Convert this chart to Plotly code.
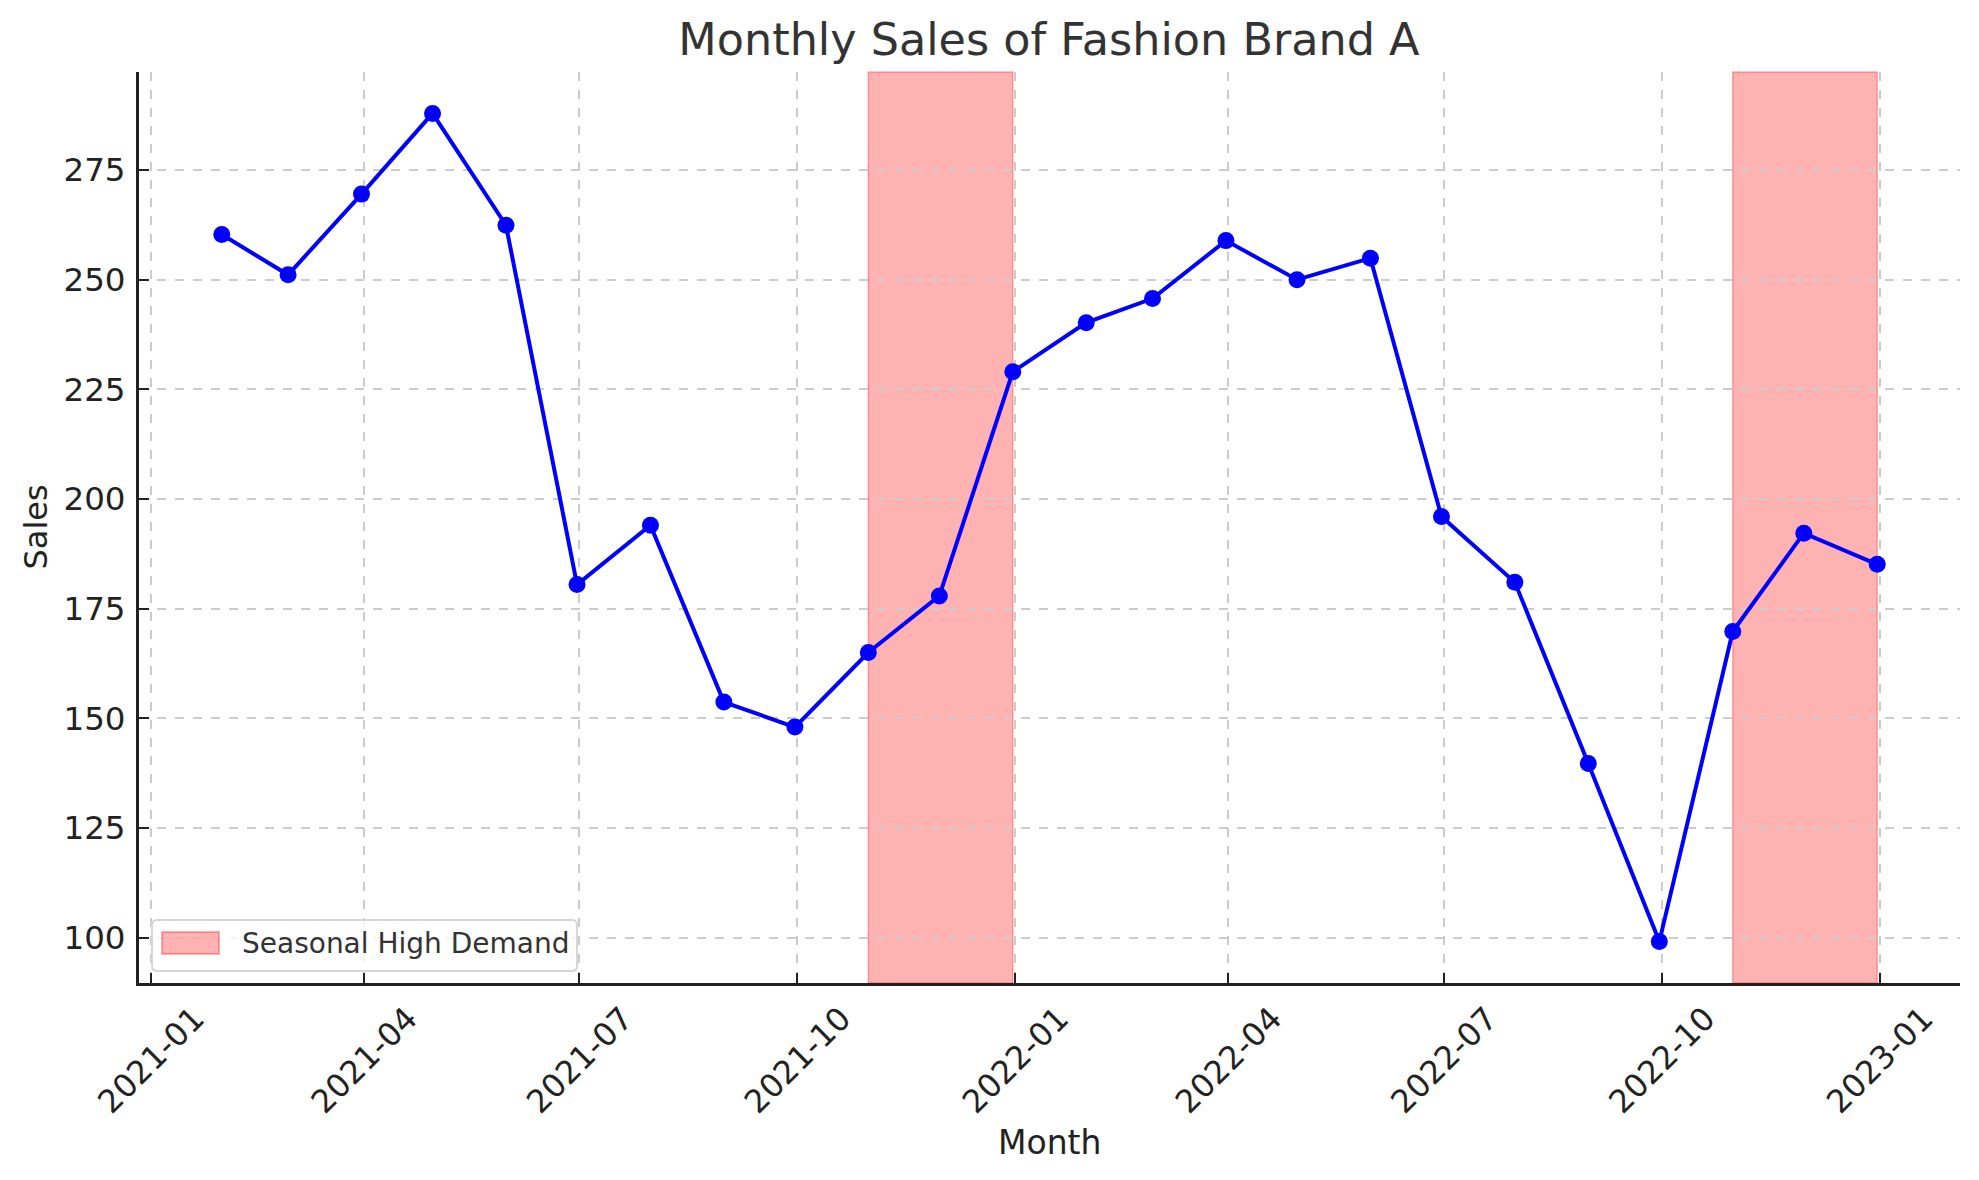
import pandas as pd
import plotly.graph_objects as go

months = ["2021-01-31", "2021-02-28", "2021-03-31", "2021-04-30", "2021-05-31", "2021-06-30",
          "2021-07-31", "2021-08-31", "2021-09-30", "2021-10-31", "2021-11-30", "2021-12-31",
          "2022-01-31", "2022-02-28", "2022-03-31", "2022-04-30", "2022-05-31", "2022-06-30",
          "2022-07-31", "2022-08-31", "2022-09-30", "2022-10-31", "2022-11-30", "2022-12-31"]
sales = [260.3, 251.1, 269.5, 287.9, 262.4, 180.5, 194.0, 153.7, 148.0, 165.0, 177.9, 229.0,
         240.2, 245.7, 258.9, 250.0, 254.9, 196.0, 181.0, 139.7, 99.1, 169.8, 192.2, 185.1]
season_start = ["2021-10-31", "2022-10-31"]
season_end = ["2021-12-31", "2022-12-31"]
season_label = "Seasonal High Demand"
x_ticks = ["2021-01-01", "2021-04-01", "2021-07-01", "2021-10-01", "2022-01-01",
           "2022-04-01", "2022-07-01", "2022-10-01", "2023-01-01"]
y_ticks = [100, 125, 150, 175, 200, 225, 250, 275]

dates = pd.to_datetime(months)
span = dates.max() - dates.min()
x_range = [dates.min() - span * 0.05, dates.max() + span * 0.05]
yspan = max(sales) - min(sales)
y_range = [min(sales) - 0.05 * yspan, max(sales) + 0.05 * yspan]

SPAN_FILL = "rgba(255,0,0,0.3)"
SPAN_EDGE = "rgba(255,0,0,0.3)"
FONT = "DejaVu Sans"

fig = go.Figure()
fig.add_trace(go.Scatter(
    x=dates, y=sales, mode="lines+markers",
    line=dict(color="#0000ff", width=4),
    marker=dict(color="#0000ff", size=17),
    showlegend=False, name="Sales",
))

for s, e in zip(season_start, season_end):
    fig.add_shape(
        type="rect", xref="x", yref="paper", x0=s, x1=e, y0=0, y1=1,
        fillcolor=SPAN_FILL, line=dict(color=SPAN_EDGE, width=1.5), layer="between",
    )

# legend (lower left): rounded frame, patch and label
W, H = 1979 - 131 - 27, 1180 - 64 - 205
bx0, bx1, by0, by1 = 13 / W, 438 / W, 12 / H, 63 / H
rx, ry = 5 / W, 5 / H
frame = (f"M{bx0+rx},{by0} L{bx1-rx},{by0} Q{bx1},{by0} {bx1},{by0+ry} "
         f"L{bx1},{by1-ry} Q{bx1},{by1} {bx1-rx},{by1} L{bx0+rx},{by1} "
         f"Q{bx0},{by1} {bx0},{by1-ry} L{bx0},{by0+ry} Q{bx0},{by0} {bx0+rx},{by0} Z")
fig.add_shape(type="path", xref="paper", yref="paper", path=frame,
              fillcolor="rgba(255,255,255,0.8)", line=dict(color="#d6d6d6", width=2),
              layer="above")
fig.add_shape(type="rect", xref="paper", yref="paper",
              x0=23 / W, x1=80 / W, y0=29 / H, y1=51 / H,
              fillcolor=SPAN_FILL, line=dict(color=SPAN_EDGE, width=2), layer="above")
fig.add_annotation(text=season_label, xref="paper", yref="paper", x=101 / W, y=40 / H,
                   xanchor="left", yanchor="middle", showarrow=False,
                   font=dict(size=28, color="#333333", family=FONT))

fig.update_layout(
    width=1979, height=1180,
    paper_bgcolor="white", plot_bgcolor="white",
    margin=dict(l=131, r=27, t=64, b=205),
    font=dict(family=FONT, color="#222222"),
    title=dict(text="Monthly Sales of Fashion Brand A", x=0.526, xanchor="center",
               y=1 - 31 / 1180, yanchor="middle", yref="container",
               font=dict(size=44.5, color="#333333", family=FONT)),
    showlegend=False,
)

fig.update_xaxes(
    range=x_range, tickvals=x_ticks, tickformat="%Y-%m", tickangle=-45,
    showgrid=True, gridcolor="#cccccc", griddash="dash", gridwidth=1.5,
    showline=True, linecolor="#222222", linewidth=3, mirror=False,
    ticks="inside", ticklen=10, tickwidth=2, tickcolor="#222222",
    tickfont=dict(size=32, color="#222222", family=FONT),
    ticklabelstandoff=1, ticklabelshift=44, zeroline=False,
)
fig.update_yaxes(
    range=y_range, tickvals=y_ticks,
    showgrid=True, gridcolor="#cccccc", griddash="dash", gridwidth=1.5,
    showline=True, linecolor="#222222", linewidth=3, mirror=False,
    ticks="inside", ticklen=10, tickwidth=2, tickcolor="#222222",
    tickfont=dict(size=32.5, color="#222222", family=FONT),
    ticklabelstandoff=4, zeroline=False,
)

fig.add_annotation(text="Month", xref="paper", yref="paper", x=0.5, y=0,
                   xanchor="center", yanchor="middle", yshift=-159, showarrow=False,
                   font=dict(size=33, color="#222222", family=FONT))
fig.add_annotation(text="Sales", xref="paper", yref="paper", x=0, y=0.5,
                   xanchor="center", yanchor="middle", xshift=-104, textangle=-90,
                   showarrow=False, font=dict(size=32, color="#222222", family=FONT))

fig.write_html("out.html")
